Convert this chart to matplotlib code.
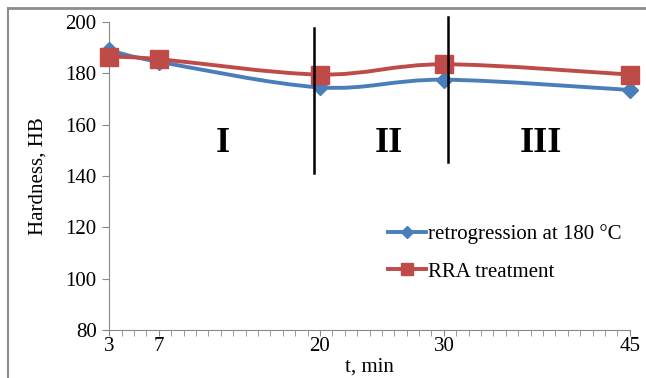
import numpy as np
import matplotlib
matplotlib.use("Agg")
import matplotlib.pyplot as plt
from matplotlib.path import Path
from matplotlib.patches import PathPatch
from matplotlib.lines import Line2D

plt.rcParams['font.family'] = ['Liberation Serif', 'DejaVu Serif']

# data
t_min = [3, 7, 20, 30, 45]
retro_180 = [189, 184.5, 174.5, 177.5, 173.5]
rra = [186.5, 185.5, 179.5, 183.5, 179.5]
tick_labels = ["3", "7", "20", "30", "45"]
stage_x = [19.5, 30.3]
stage_names = ["I", "II", "III"]
stage_label_x = [12.2, 25.6, 37.8]

blue = "#4a7ebb"
red = "#be4b48"


def smooth_path(x, y, k=1 / 6):
    # Excel-like smoothed line: bezier through the points
    x = np.asarray(x, float)
    y = np.asarray(y, float)
    verts = [(x[0], y[0])]
    codes = [Path.MOVETO]
    n = len(x)
    for i in range(n - 1):
        x0, y0 = (x[i - 1], y[i - 1]) if i > 0 else (x[i], y[i])
        x3, y3 = (x[i + 2], y[i + 2]) if i + 2 < n else (x[i + 1], y[i + 1])
        c1 = (x[i] + (x[i + 1] - x0) * k, y[i] + (y[i + 1] - y0) * k)
        c2 = (x[i + 1] - (x3 - x[i]) * k, y[i + 1] - (y3 - y[i]) * k)
        verts += [c1, c2, (x[i + 1], y[i + 1])]
        codes += [Path.CURVE4] * 3
    return Path(verts, codes)


fig = plt.figure(figsize=(6.46, 3.78), dpi=100)
ax = fig.add_axes([0.169, 0.127, 0.806, 0.815])

ax.add_patch(PathPatch(smooth_path(t_min, retro_180), fill=False, ec=blue, lw=2.8, zorder=3))
ax.add_patch(PathPatch(smooth_path(t_min, rra), fill=False, ec=red, lw=2.8, zorder=4))
ax.plot(t_min, retro_180, ls="none", marker="D", ms=8, color=blue, zorder=3, clip_on=False)
ax.plot(t_min, rra, ls="none", marker="s", ms=13.5, color=red, zorder=4, clip_on=False)

# stage boundaries
ax.plot([stage_x[0], stage_x[0]], [141, 197.5], color="black", lw=1.8, zorder=5)
ax.plot([stage_x[1], stage_x[1]], [145.5, 202], color="black", lw=1.8, zorder=5, clip_on=False)
for xs, name in zip(stage_label_x, stage_names):
    ax.text(xs, 152.5, name, fontsize=26, fontweight="bold", ha="center", va="center")

ax.set_xlim(3, 45)
ax.set_ylim(80, 200)
ax.set_xticks(t_min)
ax.set_xticklabels(tick_labels)
ax.set_xticks(range(3, 46), minor=True)
ax.tick_params(axis="x", which="both", direction="out", length=4, color="#888888", labelsize=15, pad=1)
ax.set_yticks(range(80, 201, 20))
ax.tick_params(axis="y", direction="out", length=5, color="#888888", labelsize=15, pad=4)
for s in ["top", "right"]:
    ax.spines[s].set_visible(False)
for s in ["left", "bottom"]:
    ax.spines[s].set_color("#888888")

ax.set_xlabel("t, min", fontsize=15, labelpad=1)
ax.set_ylabel("Hardness, HB", fontsize=15, labelpad=13)

handles = [
    Line2D([], [], color=blue, lw=2.8, marker="D", ms=6),
    Line2D([], [], color=red, lw=2.8, marker="s", ms=9),
]
ax.legend(handles, ["retrogression at 180 °C", "RRA treatment"], loc="upper left",
          bbox_to_anchor=(0.52, 0.37), frameon=False, fontsize=15, handlelength=1.8,
          handletextpad=0.1, labelspacing=0.85, borderaxespad=0)

# chart border (only top and left edges are visible in the crop)
fig.add_artist(Line2D([0.012, 1.0], [0.978, 0.978], transform=fig.transFigure,
                      color="#8c8c8c", lw=2))
fig.add_artist(Line2D([0.012, 0.012], [0.0, 0.978], transform=fig.transFigure,
                      color="#8c8c8c", lw=1.5))

fig.savefig("out.png", dpi=100)
